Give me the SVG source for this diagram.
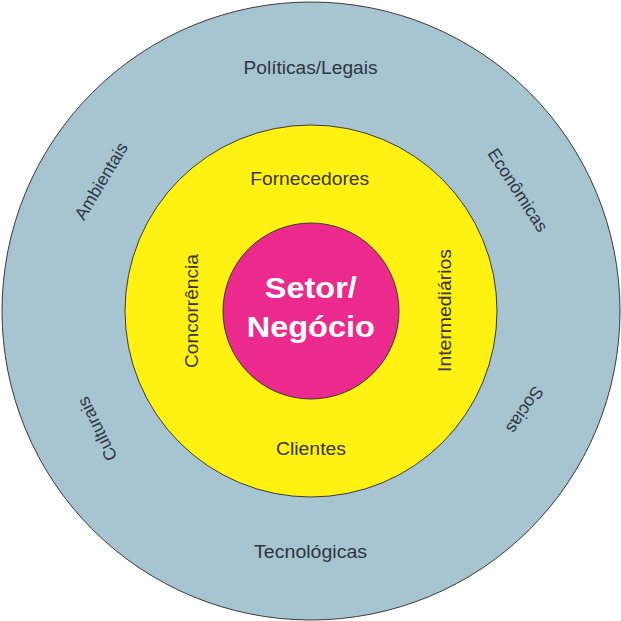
<svg xmlns="http://www.w3.org/2000/svg" width="621" height="621" viewBox="0 0 621 621">
<style>
.ring{stroke:#3a3a3a;stroke-width:1}
.t{font-family:"Liberation Sans",Arial,sans-serif;font-size:17.5px;text-anchor:middle}
.o{fill:#2d3640}
.y{fill:#3a3520}
.c{font-family:"Liberation Sans",Arial,sans-serif;font-size:29px;font-weight:bold;fill:#ffffff;text-anchor:middle}
</style>
<rect width="621" height="621" fill="#ffffff"/>
<g id="outer">
<circle class="ring" cx="311" cy="311" r="309" fill="#a7c4d1"/>
<text class="t o" x="310.5" y="74.3" textLength="134" lengthAdjust="spacingAndGlyphs">Políticas/Legais</text>
<text class="t o" x="310.6" y="558.3" textLength="113" lengthAdjust="spacingAndGlyphs">Tecnológicas</text>
<text class="t o" transform="translate(101,181) rotate(-59)" dy="0.35em">Ambientais</text>
<text class="t o" transform="translate(518,190) rotate(57)" dy="0.35em">Econômicas</text>
<text class="t o" transform="translate(97,429) rotate(-116)" dy="0.35em">Culturais</text>
<text class="t o" transform="translate(525,410) rotate(124)" dy="0.35em">Socias</text>
</g>
<g id="middle">
<circle class="ring" cx="311" cy="311" r="186" fill="#fff212"/>
<text class="t y" x="309.7" y="185" textLength="119" lengthAdjust="spacingAndGlyphs">Fornecedores</text>
<text class="t y" x="311" y="455" textLength="70" lengthAdjust="spacingAndGlyphs">Clientes</text>
<text class="t y" transform="translate(198,311) rotate(-90)" textLength="114" lengthAdjust="spacingAndGlyphs">Concorrência</text>
<text class="t y" transform="translate(451,310.5) rotate(-90)" textLength="123" lengthAdjust="spacingAndGlyphs">Intermediários</text>
</g>
<g id="center">
<circle class="ring" cx="311" cy="311" r="88" fill="#ec2a8e"/>
<text class="c" x="310.8" y="298.3" textLength="92" lengthAdjust="spacingAndGlyphs">Setor/</text>
<text class="c" x="310.8" y="336.7" textLength="128" lengthAdjust="spacingAndGlyphs">Negócio</text>
</g>
<g id="connectors"/>
</svg>
